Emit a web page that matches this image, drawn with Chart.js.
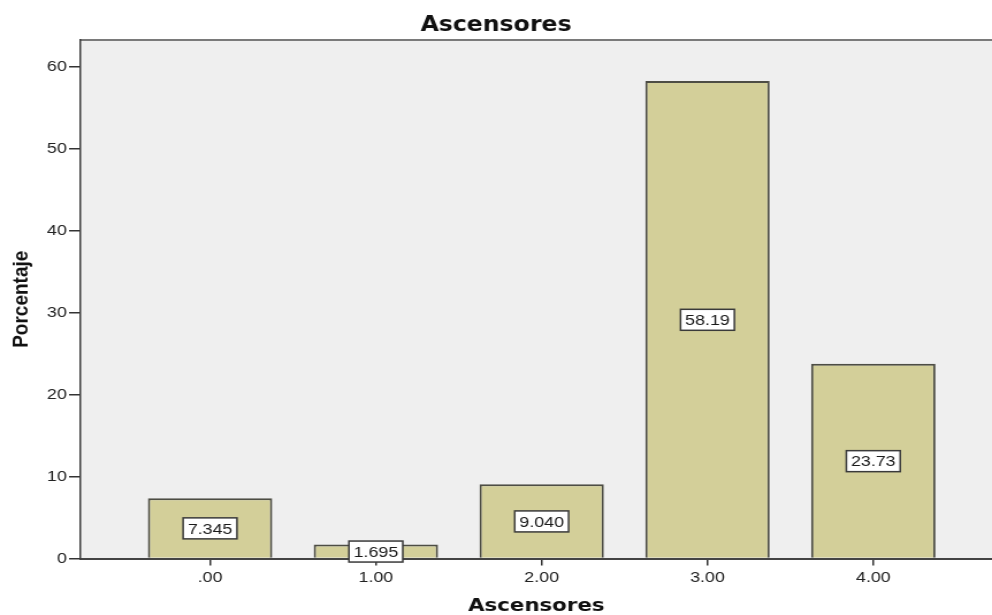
<!DOCTYPE html>
<html>
<head>
<meta charset="utf-8">
<script src="https://cdn.jsdelivr.net/npm/chart.js@4/dist/chart.umd.min.js"></script>
<style>
  html, body { margin: 0; padding: 0; background: #ffffff; overflow: hidden; }
  #wrap {
    position: absolute; left: 0; top: 0;
    width: 862px; height: 615px;
    transform: scaleX(1.150812); transform-origin: 0 0;
  }
</style>
</head>
<body>
<div id="wrap"><canvas id="chart"></canvas></div>
<script>
// Number of elevators (category codes) and share of buildings, in percent
const categories = [0, 1, 2, 3, 4];
const categoryLabels = ['.00', '1.00', '2.00', '3.00', '4.00'];
const percentages = [7.345, 1.695, 9.040, 58.19, 23.73];
const yTicks = [0, 10, 20, 30, 40, 50, 60];

const SANS = '"Liberation Sans", Arial, sans-serif';
const WIDE_BOLD = '"DejaVu Sans", Verdana, sans-serif';

// Grey plot panel and its top frame line
const panelPlugin = {
  id: 'panel',
  beforeDraw(chart) {
    const { ctx, chartArea: a } = chart;
    ctx.save();
    ctx.fillStyle = '#efefef';
    ctx.fillRect(a.left, a.top, a.right - a.left, a.bottom - a.top);
    ctx.strokeStyle = '#7a7a7a';
    ctx.lineWidth = 2;
    ctx.beginPath();
    ctx.moveTo(a.left, a.top);
    ctx.lineTo(a.right, a.top);
    ctx.stroke();
    ctx.restore();
  }
};

// Boxed value label at the middle of each bar
const valueBoxPlugin = {
  id: 'valueBoxes',
  afterDatasetsDraw(chart) {
    const { ctx } = chart;
    const yScale = chart.scales.y;
    const meta = chart.getDatasetMeta(0);
    ctx.save();
    ctx.font = '15.5px ' + SANS;
    ctx.textAlign = 'center';
    ctx.textBaseline = 'middle';
    meta.data.forEach((bar, i) => {
      const v = percentages[i];
      const txt = v.toPrecision(4);
      const cy = yScale.getPixelForValue(v / 2);
      const w = ctx.measureText(txt).width + 8;
      const h = 21;
      ctx.fillStyle = '#ffffff';
      ctx.fillRect(bar.x - w / 2, cy - h / 2, w, h);
      ctx.strokeStyle = '#3a3a3a';
      ctx.lineWidth = 1.5;
      ctx.strokeRect(bar.x - w / 2, cy - h / 2, w, h);
      ctx.fillStyle = '#1a1a1a';
      ctx.fillText(txt, bar.x, cy + 1);
    });
    ctx.restore();
  }
};

new Chart(document.getElementById('chart'), {
  type: 'bar',
  data: {
    datasets: [{
      data: categories.map((c, i) => ({ x: c, y: percentages[i] })),
      backgroundColor: '#d3cf99',
      borderColor: '#4d4d44',
      borderWidth: 2,
      barPercentage: 0.75,
      categoryPercentage: 1.0
    }]
  },
  options: {
    responsive: true,
    maintainAspectRatio: false,
    animation: false,
    devicePixelRatio: 1,
    layout: { padding: { left: 0, right: 0, top: 0, bottom: 0 } },
    plugins: {
      legend: { display: false },
      tooltip: { enabled: false },
      title: {
        display: true,
        text: 'Ascensores',
        color: '#111111',
        font: { family: WIDE_BOLD, size: 20.5, weight: 'bold', lineHeight: 1.2 },
        padding: { top: 13, bottom: 2.4 }
      }
    },
    scales: {
      x: {
        type: 'linear',
        min: -0.781,
        max: 4.716,
        offset: false,
        afterBuildTicks(scale) {
          scale.ticks = categories.map(v => ({ value: v }));
        },
        afterFit(scale) { scale.height = 56.5; },
        ticks: {
          autoSkip: false,
          maxRotation: 0,
          padding: 3,
          color: '#222222',
          font: { family: SANS, size: 15.5 },
          callback: (value) => categoryLabels[categories.indexOf(value)]
        },
        grid: {
          offset: false,
          drawOnChartArea: false,
          drawTicks: true,
          tickLength: 7,
          color: '#333333',
          lineWidth: 1.5
        },
        border: { display: true, color: '#444444', width: 2 },
        title: {
          display: true,
          text: 'Ascensores',
          color: '#111111',
          font: { family: WIDE_BOLD, size: 18.5, weight: 'bold', lineHeight: 1 },
          padding: { top: 0, bottom: 0 }
        }
      },
      y: {
        type: 'linear',
        min: 0,
        max: 63.2,
        afterBuildTicks(scale) {
          scale.ticks = yTicks.map(v => ({ value: v }));
        },
        afterFit(scale) { scale.width = 70; },
        ticks: {
          padding: 2,
          color: '#222222',
          font: { family: SANS, size: 15.5 }
        },
        grid: {
          drawOnChartArea: false,
          drawTicks: true,
          tickLength: 10,
          color: '#333333',
          lineWidth: 1.5
        },
        border: { display: true, color: '#3c3c3c', width: 1.5 },
        title: {
          display: true,
          text: 'Porcentaje',
          color: '#111111',
          font: { family: SANS, size: 19, weight: 'bold', lineHeight: 1.2 },
          padding: { top: 7, bottom: 4 }
        }
      }
    }
  },
  plugins: [panelPlugin, valueBoxPlugin]
});
</script>
</body>
</html>
